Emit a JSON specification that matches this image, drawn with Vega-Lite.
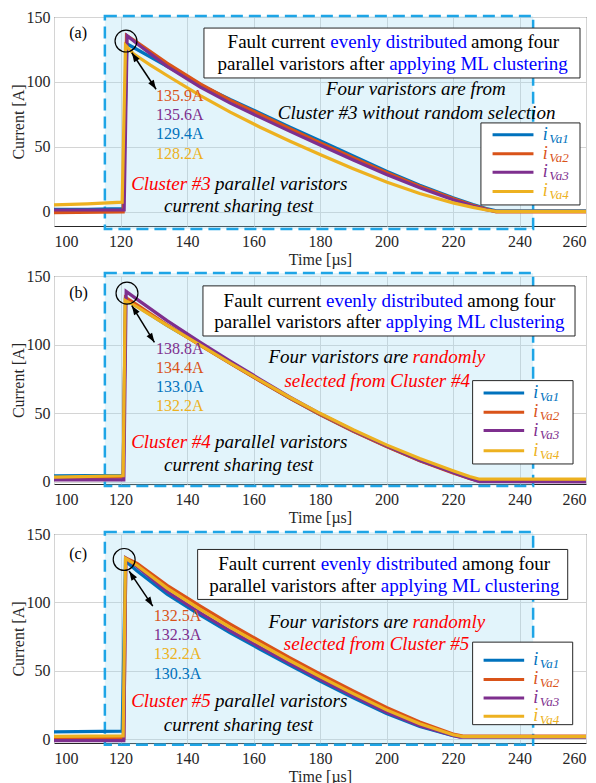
{
"$schema":"https://vega.github.io/schema/vega-lite/v6.json",
"padding":{"left":9,"top":8,"right":0,"bottom":0},
"bounds":"flush",
"spacing":50,
"datasets":{"all":[
{"p":"a","k":"curve","c":"iVa1","t":100,"v":2},{"p":"a","k":"curve","c":"iVa1","t":110,"v":2},{"p":"a","k":"curve","c":"iVa1","t":120.8,"v":2.5},{"p":"a","k":"curve","c":"iVa1","t":121.9,"v":129.4},{"p":"a","k":"curve","c":"iVa1","t":125,"v":125},{"p":"a","k":"curve","c":"iVa1","t":134,"v":112},{"p":"a","k":"curve","c":"iVa1","t":144,"v":97.8},{"p":"a","k":"curve","c":"iVa1","t":153,"v":86.5},{"p":"a","k":"curve","c":"iVa1","t":162,"v":76},{"p":"a","k":"curve","c":"iVa1","t":171,"v":65.3},{"p":"a","k":"curve","c":"iVa1","t":180,"v":54.8},{"p":"a","k":"curve","c":"iVa1","t":190,"v":43},{"p":"a","k":"curve","c":"iVa1","t":200,"v":31.3},{"p":"a","k":"curve","c":"iVa1","t":210,"v":20.6},{"p":"a","k":"curve","c":"iVa1","t":220,"v":11},{"p":"a","k":"curve","c":"iVa1","t":226,"v":5.8},{"p":"a","k":"curve","c":"iVa1","t":230,"v":2.7},{"p":"a","k":"curve","c":"iVa1","t":233,"v":0.8},{"p":"a","k":"curve","c":"iVa1","t":260,"v":0.8},
{"p":"a","k":"curve","c":"iVa2","t":100,"v":-0.5},{"p":"a","k":"curve","c":"iVa2","t":120.8,"v":0},{"p":"a","k":"curve","c":"iVa2","t":121.8,"v":135.9},{"p":"a","k":"curve","c":"iVa2","t":125,"v":130.5},{"p":"a","k":"curve","c":"iVa2","t":134,"v":114.5},{"p":"a","k":"curve","c":"iVa2","t":144,"v":98.5},{"p":"a","k":"curve","c":"iVa2","t":153,"v":86},{"p":"a","k":"curve","c":"iVa2","t":162,"v":75},{"p":"a","k":"curve","c":"iVa2","t":171,"v":64},{"p":"a","k":"curve","c":"iVa2","t":180,"v":53.3},{"p":"a","k":"curve","c":"iVa2","t":190,"v":41.7},{"p":"a","k":"curve","c":"iVa2","t":200,"v":30.3},{"p":"a","k":"curve","c":"iVa2","t":210,"v":19.8},{"p":"a","k":"curve","c":"iVa2","t":220,"v":10.3},{"p":"a","k":"curve","c":"iVa2","t":226,"v":5.2},{"p":"a","k":"curve","c":"iVa2","t":230,"v":2.2},{"p":"a","k":"curve","c":"iVa2","t":233,"v":0},{"p":"a","k":"curve","c":"iVa2","t":260,"v":0},
{"p":"a","k":"curve","c":"iVa3","t":100,"v":1.5},{"p":"a","k":"curve","c":"iVa3","t":121.1,"v":1.5},{"p":"a","k":"curve","c":"iVa3","t":122,"v":135.6},{"p":"a","k":"curve","c":"iVa3","t":125,"v":129.5},{"p":"a","k":"curve","c":"iVa3","t":134,"v":112},{"p":"a","k":"curve","c":"iVa3","t":144,"v":96},{"p":"a","k":"curve","c":"iVa3","t":153,"v":83.7},{"p":"a","k":"curve","c":"iVa3","t":162,"v":72.8},{"p":"a","k":"curve","c":"iVa3","t":171,"v":62},{"p":"a","k":"curve","c":"iVa3","t":180,"v":51.5},{"p":"a","k":"curve","c":"iVa3","t":190,"v":40},{"p":"a","k":"curve","c":"iVa3","t":200,"v":28.8},{"p":"a","k":"curve","c":"iVa3","t":210,"v":18.6},{"p":"a","k":"curve","c":"iVa3","t":220,"v":9.4},{"p":"a","k":"curve","c":"iVa3","t":226,"v":4.6},{"p":"a","k":"curve","c":"iVa3","t":230,"v":1.8},{"p":"a","k":"curve","c":"iVa3","t":233,"v":0.5},{"p":"a","k":"curve","c":"iVa3","t":260,"v":0.5},
{"p":"a","k":"curve","c":"iVa4","t":100,"v":5.5},{"p":"a","k":"curve","c":"iVa4","t":110,"v":6.2},{"p":"a","k":"curve","c":"iVa4","t":120.5,"v":7.5},{"p":"a","k":"curve","c":"iVa4","t":121.5,"v":128.2},{"p":"a","k":"curve","c":"iVa4","t":124,"v":121.5},{"p":"a","k":"curve","c":"iVa4","t":129,"v":113},{"p":"a","k":"curve","c":"iVa4","t":134,"v":105},{"p":"a","k":"curve","c":"iVa4","t":144,"v":89.5},{"p":"a","k":"curve","c":"iVa4","t":153,"v":76.8},{"p":"a","k":"curve","c":"iVa4","t":162,"v":65.2},{"p":"a","k":"curve","c":"iVa4","t":171,"v":54.4},{"p":"a","k":"curve","c":"iVa4","t":180,"v":44.2},{"p":"a","k":"curve","c":"iVa4","t":190,"v":33.3},{"p":"a","k":"curve","c":"iVa4","t":200,"v":23},{"p":"a","k":"curve","c":"iVa4","t":210,"v":14.2},{"p":"a","k":"curve","c":"iVa4","t":220,"v":7},{"p":"a","k":"curve","c":"iVa4","t":226,"v":3.5},{"p":"a","k":"curve","c":"iVa4","t":230,"v":1.5},{"p":"a","k":"curve","c":"iVa4","t":233,"v":0.5},{"p":"a","k":"curve","c":"iVa4","t":260,"v":0.5},

{"p":"b","k":"curve","c":"iVa1","t":100,"v":4.5},{"p":"b","k":"curve","c":"iVa1","t":120.8,"v":4.8},{"p":"b","k":"curve","c":"iVa1","t":121.5,"v":133},{"p":"b","k":"curve","c":"iVa1","t":125,"v":128},{"p":"b","k":"curve","c":"iVa1","t":134,"v":114},{"p":"b","k":"curve","c":"iVa1","t":144,"v":99.8},{"p":"b","k":"curve","c":"iVa1","t":153,"v":86.5},{"p":"b","k":"curve","c":"iVa1","t":162,"v":73.6},{"p":"b","k":"curve","c":"iVa1","t":171,"v":60.9},{"p":"b","k":"curve","c":"iVa1","t":180,"v":49.1},{"p":"b","k":"curve","c":"iVa1","t":190,"v":37},{"p":"b","k":"curve","c":"iVa1","t":200,"v":25.9},{"p":"b","k":"curve","c":"iVa1","t":210,"v":15.7},{"p":"b","k":"curve","c":"iVa1","t":220,"v":7},{"p":"b","k":"curve","c":"iVa1","t":225,"v":2.8},{"p":"b","k":"curve","c":"iVa1","t":227.5,"v":1},{"p":"b","k":"curve","c":"iVa1","t":260,"v":1},
{"p":"b","k":"curve","c":"iVa2","t":100,"v":3},{"p":"b","k":"curve","c":"iVa2","t":120.8,"v":3.5},{"p":"b","k":"curve","c":"iVa2","t":121.5,"v":134.4},{"p":"b","k":"curve","c":"iVa2","t":125,"v":129},{"p":"b","k":"curve","c":"iVa2","t":134,"v":114.5},{"p":"b","k":"curve","c":"iVa2","t":144,"v":99.5},{"p":"b","k":"curve","c":"iVa2","t":153,"v":86.3},{"p":"b","k":"curve","c":"iVa2","t":162,"v":73.5},{"p":"b","k":"curve","c":"iVa2","t":171,"v":60.8},{"p":"b","k":"curve","c":"iVa2","t":180,"v":49},{"p":"b","k":"curve","c":"iVa2","t":190,"v":36.8},{"p":"b","k":"curve","c":"iVa2","t":200,"v":25.7},{"p":"b","k":"curve","c":"iVa2","t":210,"v":15.4},{"p":"b","k":"curve","c":"iVa2","t":220,"v":6.6},{"p":"b","k":"curve","c":"iVa2","t":225,"v":2.5},{"p":"b","k":"curve","c":"iVa2","t":227.5,"v":0.8},{"p":"b","k":"curve","c":"iVa2","t":260,"v":0.8},
{"p":"b","k":"curve","c":"iVa3","t":100,"v":1.5},{"p":"b","k":"curve","c":"iVa3","t":121,"v":1.5},{"p":"b","k":"curve","c":"iVa3","t":121.7,"v":138.8},{"p":"b","k":"curve","c":"iVa3","t":125,"v":133},{"p":"b","k":"curve","c":"iVa3","t":134,"v":117.5},{"p":"b","k":"curve","c":"iVa3","t":144,"v":101.7},{"p":"b","k":"curve","c":"iVa3","t":153,"v":88},{"p":"b","k":"curve","c":"iVa3","t":162,"v":74.8},{"p":"b","k":"curve","c":"iVa3","t":171,"v":61.8},{"p":"b","k":"curve","c":"iVa3","t":180,"v":49.8},{"p":"b","k":"curve","c":"iVa3","t":190,"v":37.5},{"p":"b","k":"curve","c":"iVa3","t":200,"v":26.3},{"p":"b","k":"curve","c":"iVa3","t":210,"v":15.8},{"p":"b","k":"curve","c":"iVa3","t":220,"v":6.8},{"p":"b","k":"curve","c":"iVa3","t":225,"v":2.5},{"p":"b","k":"curve","c":"iVa3","t":228,"v":0.2},{"p":"b","k":"curve","c":"iVa3","t":260,"v":0},
{"p":"b","k":"curve","c":"iVa4","t":100,"v":3.5},{"p":"b","k":"curve","c":"iVa4","t":120.8,"v":4.5},{"p":"b","k":"curve","c":"iVa4","t":121.4,"v":132.2},{"p":"b","k":"curve","c":"iVa4","t":125,"v":127.5},{"p":"b","k":"curve","c":"iVa4","t":134,"v":114},{"p":"b","k":"curve","c":"iVa4","t":144,"v":99.6},{"p":"b","k":"curve","c":"iVa4","t":153,"v":86.5},{"p":"b","k":"curve","c":"iVa4","t":162,"v":74},{"p":"b","k":"curve","c":"iVa4","t":171,"v":61.5},{"p":"b","k":"curve","c":"iVa4","t":180,"v":50},{"p":"b","k":"curve","c":"iVa4","t":190,"v":38},{"p":"b","k":"curve","c":"iVa4","t":200,"v":27},{"p":"b","k":"curve","c":"iVa4","t":210,"v":17},{"p":"b","k":"curve","c":"iVa4","t":220,"v":8.2},{"p":"b","k":"curve","c":"iVa4","t":225,"v":4},{"p":"b","k":"curve","c":"iVa4","t":228,"v":2},{"p":"b","k":"curve","c":"iVa4","t":260,"v":2},

{"p":"c","k":"curve","c":"iVa1","t":100,"v":5.5},{"p":"c","k":"curve","c":"iVa1","t":120.5,"v":6},{"p":"c","k":"curve","c":"iVa1","t":121.5,"v":130.3},{"p":"c","k":"curve","c":"iVa1","t":125,"v":123},{"p":"c","k":"curve","c":"iVa1","t":134,"v":106},{"p":"c","k":"curve","c":"iVa1","t":144,"v":90.7},{"p":"c","k":"curve","c":"iVa1","t":153,"v":77.8},{"p":"c","k":"curve","c":"iVa1","t":162,"v":65.8},{"p":"c","k":"curve","c":"iVa1","t":171,"v":54},{"p":"c","k":"curve","c":"iVa1","t":180,"v":42.5},{"p":"c","k":"curve","c":"iVa1","t":190,"v":30.3},{"p":"c","k":"curve","c":"iVa1","t":200,"v":18.8},{"p":"c","k":"curve","c":"iVa1","t":210,"v":9.3},{"p":"c","k":"curve","c":"iVa1","t":220,"v":2.6},{"p":"c","k":"curve","c":"iVa1","t":222,"v":2},{"p":"c","k":"curve","c":"iVa1","t":260,"v":2},
{"p":"c","k":"curve","c":"iVa2","t":100,"v":0.5},{"p":"c","k":"curve","c":"iVa2","t":121,"v":0.5},{"p":"c","k":"curve","c":"iVa2","t":121.6,"v":132.5},{"p":"c","k":"curve","c":"iVa2","t":125,"v":128.5},{"p":"c","k":"curve","c":"iVa2","t":134,"v":112.5},{"p":"c","k":"curve","c":"iVa2","t":144,"v":97.3},{"p":"c","k":"curve","c":"iVa2","t":153,"v":84.2},{"p":"c","k":"curve","c":"iVa2","t":162,"v":71.7},{"p":"c","k":"curve","c":"iVa2","t":171,"v":59.5},{"p":"c","k":"curve","c":"iVa2","t":180,"v":47.8},{"p":"c","k":"curve","c":"iVa2","t":190,"v":35.3},{"p":"c","k":"curve","c":"iVa2","t":200,"v":23.2},{"p":"c","k":"curve","c":"iVa2","t":210,"v":12.6},{"p":"c","k":"curve","c":"iVa2","t":220,"v":3.9},{"p":"c","k":"curve","c":"iVa2","t":223,"v":2.3},{"p":"c","k":"curve","c":"iVa2","t":260,"v":2.3},
{"p":"c","k":"curve","c":"iVa3","t":100,"v":-1},{"p":"c","k":"curve","c":"iVa3","t":121,"v":-1},{"p":"c","k":"curve","c":"iVa3","t":121.6,"v":132.3},{"p":"c","k":"curve","c":"iVa3","t":125,"v":126},{"p":"c","k":"curve","c":"iVa3","t":134,"v":108},{"p":"c","k":"curve","c":"iVa3","t":144,"v":92.4},{"p":"c","k":"curve","c":"iVa3","t":153,"v":79.3},{"p":"c","k":"curve","c":"iVa3","t":162,"v":67.2},{"p":"c","k":"curve","c":"iVa3","t":171,"v":55.3},{"p":"c","k":"curve","c":"iVa3","t":180,"v":43.8},{"p":"c","k":"curve","c":"iVa3","t":190,"v":31.5},{"p":"c","k":"curve","c":"iVa3","t":200,"v":19.8},{"p":"c","k":"curve","c":"iVa3","t":210,"v":10},{"p":"c","k":"curve","c":"iVa3","t":220,"v":2.8},{"p":"c","k":"curve","c":"iVa3","t":222,"v":1.5},{"p":"c","k":"curve","c":"iVa3","t":260,"v":1.5},
{"p":"c","k":"curve","c":"iVa4","t":100,"v":2.2},{"p":"c","k":"curve","c":"iVa4","t":120.8,"v":2.5},{"p":"c","k":"curve","c":"iVa4","t":121.5,"v":132.2},{"p":"c","k":"curve","c":"iVa4","t":125,"v":127},{"p":"c","k":"curve","c":"iVa4","t":134,"v":110.5},{"p":"c","k":"curve","c":"iVa4","t":144,"v":95},{"p":"c","k":"curve","c":"iVa4","t":153,"v":81.8},{"p":"c","k":"curve","c":"iVa4","t":162,"v":69.5},{"p":"c","k":"curve","c":"iVa4","t":171,"v":57.4},{"p":"c","k":"curve","c":"iVa4","t":180,"v":45.8},{"p":"c","k":"curve","c":"iVa4","t":190,"v":33.4},{"p":"c","k":"curve","c":"iVa4","t":200,"v":21.5},{"p":"c","k":"curve","c":"iVa4","t":210,"v":11.4},{"p":"c","k":"curve","c":"iVa4","t":220,"v":3.3},{"p":"c","k":"curve","c":"iVa4","t":223,"v":2},{"p":"c","k":"curve","c":"iVa4","t":260,"v":2},

{"p":"a","k":"frame","t":115.3,"t2":244.1,"v":-13.1,"v2":150.8},
{"p":"b","k":"frame","t":115.3,"t2":244.1,"v":-2.9,"v2":152.2},
{"p":"c","k":"frame","t":115.3,"t2":244.1,"v":-3.9,"v2":151.4},
{"p":"a","k":"circ","t":121.65,"v":131.5},
{"p":"b","k":"circ","t":121.95,"v":137.5},
{"p":"c","k":"circ","t":121.1,"v":131.4},
{"p":"a","k":"arrow","t":123.4,"v":122.5,"t2":130.7,"v2":94.4},
{"p":"b","k":"arrow","t":123.4,"v":128.4,"t2":130.2,"v2":101.7},
{"p":"c","k":"arrow","t":122.6,"v":122.9,"t2":129.7,"v2":97.3},
{"p":"a","k":"headB","t":130.7,"v":94.4},
{"p":"b","k":"headB","t":130.2,"v":101.7},
{"p":"c","k":"headB","t":129.7,"v":97.3},
{"p":"a","k":"box","t":145.1,"t2":258.2,"v":103.1,"v2":141.5},
{"p":"a","k":"box","t":228.4,"t2":258.2,"v":5.4,"v2":68.5},
{"p":"b","k":"box","t":144.8,"t2":256.7,"v":106.3,"v2":142.8},
{"p":"b","k":"box","t":225.9,"t2":256.1,"v":13.1,"v2":73.8},
{"p":"c","k":"box","t":143.2,"t2":254.5,"v":102.2,"v2":138.7},
{"p":"c","k":"box","t":225.9,"t2":256.0,"v":10.7,"v2":71.0},

{"p":"a","k":"legline","c":"iVa1","t":231.9,"t2":244.2,"v":59.5},
{"p":"a","k":"legline","c":"iVa2","t":231.9,"t2":244.2,"v":44.8},
{"p":"a","k":"legline","c":"iVa3","t":231.9,"t2":244.2,"v":30.5},
{"p":"a","k":"legline","c":"iVa4","t":231.9,"t2":244.2,"v":15.8},
{"p":"b","k":"legline","c":"iVa1","t":229.2,"t2":241.4,"v":64.8},
{"p":"b","k":"legline","c":"iVa2","t":229.2,"t2":241.4,"v":50.8},
{"p":"b","k":"legline","c":"iVa3","t":229.2,"t2":241.4,"v":37.4},
{"p":"b","k":"legline","c":"iVa4","t":229.2,"t2":241.4,"v":22.8},
{"p":"c","k":"legline","c":"iVa1","t":229.2,"t2":241.4,"v":57.8},
{"p":"c","k":"legline","c":"iVa2","t":229.2,"t2":241.4,"v":43.7},
{"p":"c","k":"legline","c":"iVa3","t":229.2,"t2":241.4,"v":30.2},
{"p":"c","k":"legline","c":"iVa4","t":229.2,"t2":241.4,"v":16.8},
{"p":"a","k":"legi","c":"iVa1","sub":"Va1","t":247.0,"v":59.5},
{"p":"a","k":"legi","c":"iVa2","sub":"Va2","t":247.0,"v":44.8},
{"p":"a","k":"legi","c":"iVa3","sub":"Va3","t":247.0,"v":30.5},
{"p":"a","k":"legi","c":"iVa4","sub":"Va4","t":247.0,"v":15.8},
{"p":"b","k":"legi","c":"iVa1","sub":"Va1","t":244.1,"v":64.8},
{"p":"b","k":"legi","c":"iVa2","sub":"Va2","t":244.1,"v":50.8},
{"p":"b","k":"legi","c":"iVa3","sub":"Va3","t":244.1,"v":37.4},
{"p":"b","k":"legi","c":"iVa4","sub":"Va4","t":244.1,"v":22.8},
{"p":"c","k":"legi","c":"iVa1","sub":"Va1","t":244.1,"v":57.8},
{"p":"c","k":"legi","c":"iVa2","sub":"Va2","t":244.1,"v":43.7},
{"p":"c","k":"legi","c":"iVa3","sub":"Va3","t":244.1,"v":30.2},
{"p":"c","k":"legi","c":"iVa4","sub":"Va4","t":244.1,"v":16.8},

{"p":"a","k":"lab","c":"k","text":"(a)","t":104.6,"v":137.5},
{"p":"b","k":"lab","c":"k","text":"(b)","t":104.6,"v":137.5},
{"p":"c","k":"lab","c":"k","text":"(c)","t":104.6,"v":135.1},
{"p":"a","k":"val","c":"iVa2","text":"135.9A","t":130.7,"v":89.2},
{"p":"a","k":"val","c":"iVa3","text":"135.6A","t":130.7,"v":74.4},
{"p":"a","k":"val","c":"iVa1","text":"129.4A","t":130.7,"v":59.8},
{"p":"a","k":"val","c":"iVa4","text":"128.2A","t":130.7,"v":44.8},
{"p":"b","k":"val","c":"iVa3","text":"138.8A","t":130.7,"v":96.9},
{"p":"b","k":"val","c":"iVa2","text":"134.4A","t":130.7,"v":82.8},
{"p":"b","k":"val","c":"iVa1","text":"133.0A","t":130.7,"v":69.0},
{"p":"b","k":"val","c":"iVa4","text":"132.2A","t":130.7,"v":55.1},
{"p":"c","k":"val","c":"iVa2","text":"132.5A","t":130.0,"v":90.0},
{"p":"c","k":"val","c":"iVa3","text":"132.3A","t":130.0,"v":75.9},
{"p":"c","k":"val","c":"iVa4","text":"132.2A","t":130.0,"v":62.0},
{"p":"c","k":"val","c":"iVa1","text":"130.3A","t":130.0,"v":47.8},

{"p":"a","k":"note","c":"k","text":"Fault current","t":152.2,"v":130.7},
{"p":"a","k":"note","c":"blue","text":"evenly distributed","t":183.1,"v":130.7},
{"p":"a","k":"note","c":"k","text":"among four","t":225.4,"v":130.7},
{"p":"a","k":"note","c":"k","text":"parallel varistors after","t":149.2,"v":114},
{"p":"a","k":"note","c":"blue","text":"applying ML clustering","t":200.8,"v":114},
{"p":"b","k":"note","c":"k","text":"Fault current","t":151.0,"v":132.0},
{"p":"b","k":"note","c":"blue","text":"evenly distributed","t":181.8,"v":132.0},
{"p":"b","k":"note","c":"k","text":"among four","t":224.3,"v":132.0},
{"p":"b","k":"note","c":"k","text":"parallel varistors after","t":148.2,"v":116.3},
{"p":"b","k":"note","c":"blue","text":"applying ML clustering","t":199.8,"v":116.3},
{"p":"c","k":"note","c":"k","text":"Fault current","t":149.4,"v":127.8},
{"p":"c","k":"note","c":"blue","text":"evenly distributed","t":180.2,"v":127.8},
{"p":"c","k":"note","c":"k","text":"among four","t":222.7,"v":127.8},
{"p":"c","k":"note","c":"k","text":"parallel varistors after","t":146.7,"v":111.9},
{"p":"c","k":"note","c":"blue","text":"applying ML clustering","t":198.3,"v":111.9},

{"p":"a","k":"it","c":"k","text":"Four varistors are from","t":181.8,"v":94.4},
{"p":"a","k":"it","c":"k","text":"Cluster #3 without random selection","t":167.3,"v":76.4},
{"p":"a","k":"it","c":"red","text":"Cluster #3","t":123.2,"v":21.3},
{"p":"a","k":"it","c":"k","text":"parallel varistors","t":148.4,"v":21.3},
{"p":"a","k":"it","c":"k","text":"current sharing test","t":133.1,"v":4.6},
{"p":"b","k":"it","c":"k","text":"Four varistors are","t":164.5,"v":90.8},
{"p":"b","k":"it","c":"red","text":"randomly","t":207.8,"v":90.8},
{"p":"b","k":"it","c":"red","text":"selected from Cluster #4","t":169.3,"v":73.8},
{"p":"b","k":"it","c":"red","text":"Cluster #4","t":123.2,"v":29.4},
{"p":"b","k":"it","c":"k","text":"parallel varistors","t":148.4,"v":29.4},
{"p":"b","k":"it","c":"k","text":"current sharing test","t":133.1,"v":12.4},
{"p":"c","k":"it","c":"k","text":"Four varistors are","t":164.5,"v":85.8},
{"p":"c","k":"it","c":"red","text":"randomly","t":207.8,"v":85.8},
{"p":"c","k":"it","c":"red","text":"selected from Cluster #5","t":169.1,"v":69.3},
{"p":"c","k":"it","c":"red","text":"Cluster #5","t":123.2,"v":27.8},
{"p":"c","k":"it","c":"k","text":"parallel varistors","t":148.4,"v":27.8},
{"p":"c","k":"it","c":"k","text":"current sharing test","t":133.0,"v":10.7}
]},
"vconcat":[
{"width":532,"height":209,"data":{"name":"all"},"transform":[{"filter":"datum.p==='a'"}],
"encoding":{
"x":{"field":"t","type":"quantitative","scale":{"domain":[100,260],"nice":false,"zero":false},"axis":{"title":"Time [µs]","values":[100,120,140,160,180,200,220,240,260]}},
"y":{"field":"v","type":"quantitative","scale":{"domain":[-10.8,150],"nice":false,"zero":false},"axis":{"title":"Current [A]","values":[0,50,100,150]}}},
"layer":[
{"transform":[{"filter":"datum.k==='frame'"}],"mark":{"type":"rect","fill":"#9fd9f1","fillOpacity":0.3,"stroke":"#1ea5e6","strokeWidth":2.5,"strokeDash":[12,6]},"encoding":{"x2":{"field":"t2"},"y2":{"field":"v2"}}},
{"transform":[{"filter":"datum.k==='curve'"}],"mark":{"type":"line","strokeWidth":3.2},"encoding":{"color":{"field":"c","type":"nominal","scale":{"domain":["iVa1","iVa2","iVa3","iVa4","k","blue","red"],"range":["#0072BD","#D95319","#7E2F8E","#EDB120","#000000","#0000FF","#FF0000"]}}}},
{"transform":[{"filter":"datum.k==='circ'"}],"mark":{"type":"point","shape":"circle","size":480,"filled":false,"color":"black","strokeWidth":1.2,"opacity":1}},
{"transform":[{"filter":"datum.k==='arrow'"}],"mark":{"type":"rule","color":"black","strokeWidth":1.5},"encoding":{"x2":{"field":"t2"},"y2":{"field":"v2"}}},
{"transform":[{"filter":"datum.k==='arrow'"}],"mark":{"type":"point","shape":"M0,0L-0.35,1L0.35,1Z","size":350,"filled":true,"color":"black","opacity":1,"angle":327}},
{"transform":[{"filter":"datum.k==='headB'"}],"mark":{"type":"point","shape":"M0,0L-0.35,1L0.35,1Z","size":350,"filled":true,"color":"black","opacity":1,"angle":147}},
{"transform":[{"filter":"datum.k==='box'"}],"mark":{"type":"rect","fill":"white","stroke":"#262626","strokeWidth":1},"encoding":{"x2":{"field":"t2"},"y2":{"field":"v2"}}},
{"transform":[{"filter":"datum.k==='legline'"}],"mark":{"type":"rule","strokeWidth":3},"encoding":{"x2":{"field":"t2"},"color":{"field":"c","type":"nominal","scale":{"domain":["iVa1","iVa2","iVa3","iVa4","k","blue","red"],"range":["#0072BD","#D95319","#7E2F8E","#EDB120","#000000","#0000FF","#FF0000"]}}}},
{"transform":[{"filter":"datum.k==='val'||datum.k==='lab'"}],"mark":{"type":"text","font":"Liberation Serif","fontSize":16,"align":"left","baseline":"middle"},"encoding":{"text":{"field":"text"},"color":{"field":"c","type":"nominal","scale":{"domain":["iVa1","iVa2","iVa3","iVa4","k","blue","red"],"range":["#0072BD","#D95319","#7E2F8E","#EDB120","#000000","#0000FF","#FF0000"]}}}},
{"transform":[{"filter":"datum.k==='note'"}],"mark":{"type":"text","font":"Liberation Serif","fontSize":19,"align":"left","baseline":"middle"},"encoding":{"text":{"field":"text"},"color":{"field":"c","type":"nominal","scale":{"domain":["iVa1","iVa2","iVa3","iVa4","k","blue","red"],"range":["#0072BD","#D95319","#7E2F8E","#EDB120","#000000","#0000FF","#FF0000"]}}}},
{"transform":[{"filter":"datum.k==='it'"}],"mark":{"type":"text","font":"Liberation Serif","fontSize":19,"fontStyle":"italic","align":"left","baseline":"middle"},"encoding":{"text":{"field":"text"},"color":{"field":"c","type":"nominal","scale":{"domain":["iVa1","iVa2","iVa3","iVa4","k","blue","red"],"range":["#0072BD","#D95319","#7E2F8E","#EDB120","#000000","#0000FF","#FF0000"]}}}},
{"transform":[{"filter":"datum.k==='legi'"}],"mark":{"type":"text","font":"Liberation Serif","fontSize":18,"fontStyle":"italic","align":"left","baseline":"middle"},"encoding":{"text":{"value":"i"},"color":{"field":"c","type":"nominal","scale":{"domain":["iVa1","iVa2","iVa3","iVa4","k","blue","red"],"range":["#0072BD","#D95319","#7E2F8E","#EDB120","#000000","#0000FF","#FF0000"]}}}},
{"transform":[{"filter":"datum.k==='legi'"}],"mark":{"type":"text","font":"Liberation Serif","fontSize":13,"fontStyle":"italic","align":"left","baseline":"middle","dx":6.5,"dy":4},"encoding":{"text":{"field":"sub"},"color":{"field":"c","type":"nominal","scale":{"domain":["iVa1","iVa2","iVa3","iVa4","k","blue","red"],"range":["#0072BD","#D95319","#7E2F8E","#EDB120","#000000","#0000FF","#FF0000"]}}}}
]},
{"width":532,"height":208,"data":{"name":"all"},"transform":[{"filter":"datum.p==='b'"}],
"encoding":{
"x":{"field":"t","type":"quantitative","scale":{"domain":[100,260],"nice":false,"zero":false},"axis":{"title":"Time [µs]","values":[100,120,140,160,180,200,220,240,260]}},
"y":{"field":"v","type":"quantitative","scale":{"domain":[-1.5,150],"nice":false,"zero":false},"axis":{"title":"Current [A]","values":[0,50,100,150]}}},
"layer":[
{"transform":[{"filter":"datum.k==='frame'"}],"mark":{"type":"rect","fill":"#9fd9f1","fillOpacity":0.3,"stroke":"#1ea5e6","strokeWidth":2.5,"strokeDash":[12,6]},"encoding":{"x2":{"field":"t2"},"y2":{"field":"v2"}}},
{"transform":[{"filter":"datum.k==='curve'"}],"mark":{"type":"line","strokeWidth":3.2},"encoding":{"color":{"field":"c","type":"nominal","scale":{"domain":["iVa1","iVa2","iVa3","iVa4","k","blue","red"],"range":["#0072BD","#D95319","#7E2F8E","#EDB120","#000000","#0000FF","#FF0000"]}}}},
{"transform":[{"filter":"datum.k==='circ'"}],"mark":{"type":"point","shape":"circle","size":480,"filled":false,"color":"black","strokeWidth":1.2,"opacity":1}},
{"transform":[{"filter":"datum.k==='arrow'"}],"mark":{"type":"rule","color":"black","strokeWidth":1.5},"encoding":{"x2":{"field":"t2"},"y2":{"field":"v2"}}},
{"transform":[{"filter":"datum.k==='arrow'"}],"mark":{"type":"point","shape":"M0,0L-0.35,1L0.35,1Z","size":350,"filled":true,"color":"black","opacity":1,"angle":327}},
{"transform":[{"filter":"datum.k==='headB'"}],"mark":{"type":"point","shape":"M0,0L-0.35,1L0.35,1Z","size":350,"filled":true,"color":"black","opacity":1,"angle":147}},
{"transform":[{"filter":"datum.k==='box'"}],"mark":{"type":"rect","fill":"white","stroke":"#262626","strokeWidth":1},"encoding":{"x2":{"field":"t2"},"y2":{"field":"v2"}}},
{"transform":[{"filter":"datum.k==='legline'"}],"mark":{"type":"rule","strokeWidth":3},"encoding":{"x2":{"field":"t2"},"color":{"field":"c","type":"nominal","scale":{"domain":["iVa1","iVa2","iVa3","iVa4","k","blue","red"],"range":["#0072BD","#D95319","#7E2F8E","#EDB120","#000000","#0000FF","#FF0000"]}}}},
{"transform":[{"filter":"datum.k==='val'||datum.k==='lab'"}],"mark":{"type":"text","font":"Liberation Serif","fontSize":16,"align":"left","baseline":"middle"},"encoding":{"text":{"field":"text"},"color":{"field":"c","type":"nominal","scale":{"domain":["iVa1","iVa2","iVa3","iVa4","k","blue","red"],"range":["#0072BD","#D95319","#7E2F8E","#EDB120","#000000","#0000FF","#FF0000"]}}}},
{"transform":[{"filter":"datum.k==='note'"}],"mark":{"type":"text","font":"Liberation Serif","fontSize":19,"align":"left","baseline":"middle"},"encoding":{"text":{"field":"text"},"color":{"field":"c","type":"nominal","scale":{"domain":["iVa1","iVa2","iVa3","iVa4","k","blue","red"],"range":["#0072BD","#D95319","#7E2F8E","#EDB120","#000000","#0000FF","#FF0000"]}}}},
{"transform":[{"filter":"datum.k==='it'"}],"mark":{"type":"text","font":"Liberation Serif","fontSize":19,"fontStyle":"italic","align":"left","baseline":"middle"},"encoding":{"text":{"field":"text"},"color":{"field":"c","type":"nominal","scale":{"domain":["iVa1","iVa2","iVa3","iVa4","k","blue","red"],"range":["#0072BD","#D95319","#7E2F8E","#EDB120","#000000","#0000FF","#FF0000"]}}}},
{"transform":[{"filter":"datum.k==='legi'"}],"mark":{"type":"text","font":"Liberation Serif","fontSize":18,"fontStyle":"italic","align":"left","baseline":"middle"},"encoding":{"text":{"value":"i"},"color":{"field":"c","type":"nominal","scale":{"domain":["iVa1","iVa2","iVa3","iVa4","k","blue","red"],"range":["#0072BD","#D95319","#7E2F8E","#EDB120","#000000","#0000FF","#FF0000"]}}}},
{"transform":[{"filter":"datum.k==='legi'"}],"mark":{"type":"text","font":"Liberation Serif","fontSize":13,"fontStyle":"italic","align":"left","baseline":"middle","dx":6.5,"dy":4},"encoding":{"text":{"field":"sub"},"color":{"field":"c","type":"nominal","scale":{"domain":["iVa1","iVa2","iVa3","iVa4","k","blue","red"],"range":["#0072BD","#D95319","#7E2F8E","#EDB120","#000000","#0000FF","#FF0000"]}}}}
]},
{"width":532,"height":209,"data":{"name":"all"},"transform":[{"filter":"datum.p==='c'"}],
"encoding":{
"x":{"field":"t","type":"quantitative","scale":{"domain":[100,260],"nice":false,"zero":false},"axis":{"title":"Time [µs]","values":[100,120,140,160,180,200,220,240,260]}},
"y":{"field":"v","type":"quantitative","scale":{"domain":[-2.7,150],"nice":false,"zero":false},"axis":{"title":"Current [A]","values":[0,50,100,150]}}},
"layer":[
{"transform":[{"filter":"datum.k==='frame'"}],"mark":{"type":"rect","fill":"#9fd9f1","fillOpacity":0.3,"stroke":"#1ea5e6","strokeWidth":2.5,"strokeDash":[12,6]},"encoding":{"x2":{"field":"t2"},"y2":{"field":"v2"}}},
{"transform":[{"filter":"datum.k==='curve'"}],"mark":{"type":"line","strokeWidth":3.2},"encoding":{"color":{"field":"c","type":"nominal","scale":{"domain":["iVa1","iVa2","iVa3","iVa4","k","blue","red"],"range":["#0072BD","#D95319","#7E2F8E","#EDB120","#000000","#0000FF","#FF0000"]}}}},
{"transform":[{"filter":"datum.k==='circ'"}],"mark":{"type":"point","shape":"circle","size":480,"filled":false,"color":"black","strokeWidth":1.2,"opacity":1}},
{"transform":[{"filter":"datum.k==='arrow'"}],"mark":{"type":"rule","color":"black","strokeWidth":1.5},"encoding":{"x2":{"field":"t2"},"y2":{"field":"v2"}}},
{"transform":[{"filter":"datum.k==='arrow'"}],"mark":{"type":"point","shape":"M0,0L-0.35,1L0.35,1Z","size":350,"filled":true,"color":"black","opacity":1,"angle":327}},
{"transform":[{"filter":"datum.k==='headB'"}],"mark":{"type":"point","shape":"M0,0L-0.35,1L0.35,1Z","size":350,"filled":true,"color":"black","opacity":1,"angle":147}},
{"transform":[{"filter":"datum.k==='box'"}],"mark":{"type":"rect","fill":"white","stroke":"#262626","strokeWidth":1},"encoding":{"x2":{"field":"t2"},"y2":{"field":"v2"}}},
{"transform":[{"filter":"datum.k==='legline'"}],"mark":{"type":"rule","strokeWidth":3},"encoding":{"x2":{"field":"t2"},"color":{"field":"c","type":"nominal","scale":{"domain":["iVa1","iVa2","iVa3","iVa4","k","blue","red"],"range":["#0072BD","#D95319","#7E2F8E","#EDB120","#000000","#0000FF","#FF0000"]}}}},
{"transform":[{"filter":"datum.k==='val'||datum.k==='lab'"}],"mark":{"type":"text","font":"Liberation Serif","fontSize":16,"align":"left","baseline":"middle"},"encoding":{"text":{"field":"text"},"color":{"field":"c","type":"nominal","scale":{"domain":["iVa1","iVa2","iVa3","iVa4","k","blue","red"],"range":["#0072BD","#D95319","#7E2F8E","#EDB120","#000000","#0000FF","#FF0000"]}}}},
{"transform":[{"filter":"datum.k==='note'"}],"mark":{"type":"text","font":"Liberation Serif","fontSize":19,"align":"left","baseline":"middle"},"encoding":{"text":{"field":"text"},"color":{"field":"c","type":"nominal","scale":{"domain":["iVa1","iVa2","iVa3","iVa4","k","blue","red"],"range":["#0072BD","#D95319","#7E2F8E","#EDB120","#000000","#0000FF","#FF0000"]}}}},
{"transform":[{"filter":"datum.k==='it'"}],"mark":{"type":"text","font":"Liberation Serif","fontSize":19,"fontStyle":"italic","align":"left","baseline":"middle"},"encoding":{"text":{"field":"text"},"color":{"field":"c","type":"nominal","scale":{"domain":["iVa1","iVa2","iVa3","iVa4","k","blue","red"],"range":["#0072BD","#D95319","#7E2F8E","#EDB120","#000000","#0000FF","#FF0000"]}}}},
{"transform":[{"filter":"datum.k==='legi'"}],"mark":{"type":"text","font":"Liberation Serif","fontSize":18,"fontStyle":"italic","align":"left","baseline":"middle"},"encoding":{"text":{"value":"i"},"color":{"field":"c","type":"nominal","scale":{"domain":["iVa1","iVa2","iVa3","iVa4","k","blue","red"],"range":["#0072BD","#D95319","#7E2F8E","#EDB120","#000000","#0000FF","#FF0000"]}}}},
{"transform":[{"filter":"datum.k==='legi'"}],"mark":{"type":"text","font":"Liberation Serif","fontSize":13,"fontStyle":"italic","align":"left","baseline":"middle","dx":6.5,"dy":4},"encoding":{"text":{"field":"sub"},"color":{"field":"c","type":"nominal","scale":{"domain":["iVa1","iVa2","iVa3","iVa4","k","blue","red"],"range":["#0072BD","#D95319","#7E2F8E","#EDB120","#000000","#0000FF","#FF0000"]}}}}
]}
],
"config":{
"view":{"stroke":"#262626","strokeWidth":1},
"font":"Liberation Serif",
"legend":{"disable":true},
"axis":{"labelFont":"Liberation Serif","labelFontSize":16,"labelColor":"#262626","titleFont":"Liberation Serif","titleFontSize":16,"titleFontWeight":"normal","titleColor":"#262626","domain":false,"ticks":false,"gridColor":"#d4d4d4","gridOpacity":1},
"axisX":{"labelPadding":7,"titlePadding":2},
"axisY":{"labelPadding":4,"titlePadding":0}
}
}
